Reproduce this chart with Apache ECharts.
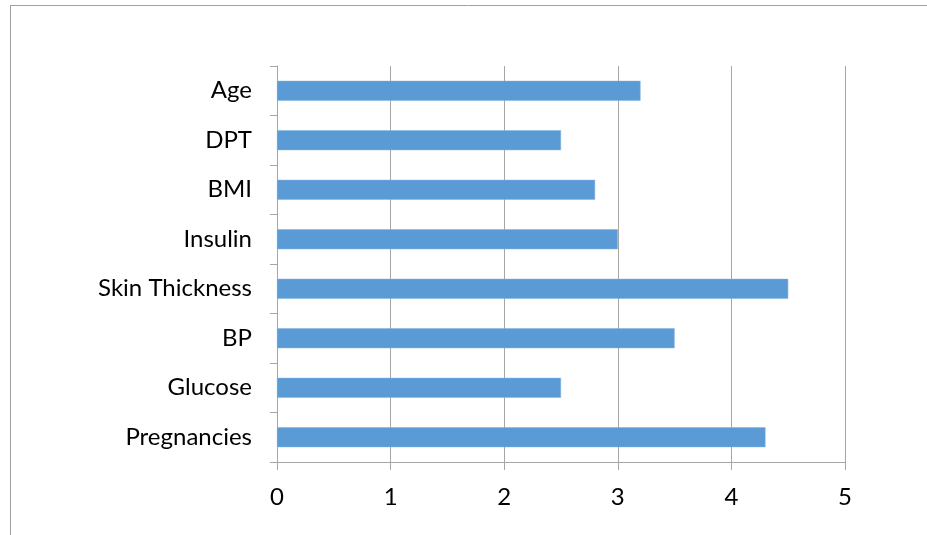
<!DOCTYPE html>
<html>
<head>
<meta charset="utf-8">
<style>
  html, body { margin: 0; padding: 0; background: #fff; }
  #chart { width: 927px; height: 535px; }
</style>
<script src="https://cdn.jsdelivr.net/npm/echarts@6/dist/echarts.min.js"></script>
</head>
<body>
<div id="chart"></div>
<script>
// Features listed bottom to top along the category axis
const features = ['Pregnancies', 'Glucose', 'BP', 'Skin Thickness', 'Insulin', 'BMI', 'DPT', 'Age'];
const scores = [4.3, 2.5, 3.5, 4.5, 3.0, 2.8, 2.5, 3.2];
const scoreTicks = [0, 1, 2, 3, 4, 5];

const chart = echarts.init(document.getElementById('chart'), null, { renderer: 'canvas' });
const fontFamily = 'Lato, "Open Sans", sans-serif';
const gridGray = '#a6a6a6';

chart.setOption({
  animation: false,
  backgroundColor: '#ffffff',
  graphic: [
    { type: 'line', shape: { x1: 10, y1: 5.5, x2: 927, y2: 5.5 }, style: { stroke: '#a0a0a0', lineWidth: 1 } },
    { type: 'line', shape: { x1: 10.5, y1: 5, x2: 10.5, y2: 535 }, style: { stroke: '#a0a0a0', lineWidth: 1 } }
  ],
  grid: { left: 277, top: 66, right: 82, bottom: 73, containLabel: false },
  xAxis: {
    type: 'value',
    min: scoreTicks[0],
    max: scoreTicks[scoreTicks.length - 1],
    interval: 1,
    axisLine: { show: true, lineStyle: { color: gridGray, width: 1 } },
    axisTick: { show: true, length: 8, lineStyle: { color: gridGray } },
    splitLine: { show: true, lineStyle: { color: gridGray, width: 1 } },
    axisLabel: { color: '#000', fontSize: 24, fontFamily: fontFamily, margin: 23 }
  },
  yAxis: {
    type: 'category',
    data: features,
    axisLine: { show: true, lineStyle: { color: gridGray, width: 1 } },
    axisTick: { show: true, length: 7, alignWithLabel: false, lineStyle: { color: gridGray } },
    splitLine: { show: false },
    axisLabel: { color: '#000', fontSize: 24, fontFamily: fontFamily, margin: 25 }
  },
  series: [{
    type: 'bar',
    data: scores,
    barWidth: '40%',
    itemStyle: { color: '#5b9bd5', borderColor: '#7fb0de', borderWidth: 0.5 }
  }]
});
</script>
</body>
</html>
